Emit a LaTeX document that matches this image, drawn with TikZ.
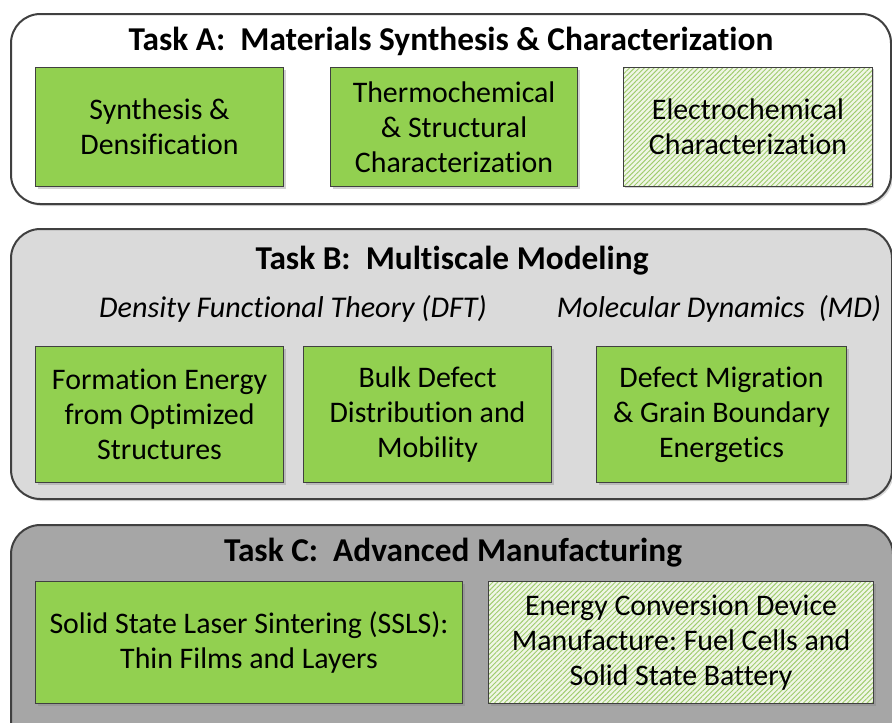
\documentclass[tikz,border=0pt]{standalone}
\usepackage{fontspec}
\setmainfont[Ligatures=NoCommon]{Carlito}
\usepackage{tikz}
\usetikzlibrary{calc,shadows,patterns.meta}

\definecolor{boxgreen}{RGB}{146,208,80}
\definecolor{palegreen}{RGB}{240,246,230}
\definecolor{hatchgreen}{RGB}{160,204,110}
\definecolor{edgegray}{RGB}{64,64,64}
\definecolor{panelB}{RGB}{218,218,218}
\definecolor{panelC}{RGB}{166,166,166}

\newdimen\px
\px=0.75pt
\newcommand{\cellfont}{\fontsize{22.4}{26.3}\selectfont}
\newcommand{\taskfont}{\fontsize{25}{30}\selectfont\bfseries}
\newcommand{\methodfont}{\fontsize{22.6}{27}\selectfont\itshape}
\frenchspacing

\tikzset{
  panel/.style={draw=edgegray, line width=1.5pt, rounded corners=22pt, anchor=north west,
    drop shadow={opacity=0.3, shadow xshift=1.5pt, shadow yshift=-1.5pt}},
  cell/.style={draw=edgegray, line width=0.8pt, anchor=north west, inner sep=0pt,
    align=center, font=\cellfont,
    drop shadow={opacity=0.35, shadow xshift=1.5pt, shadow yshift=-1.5pt}},
  solid cell/.style={cell, fill=boxgreen},
  hatch cell/.style={cell, preaction={fill=palegreen},
    pattern={Lines[angle=45, distance=2.6pt, line width=0.7pt]}, pattern color=hatchgreen},
}

\begin{document}
\begin{tikzpicture}[x=0.75pt, y=-0.75pt]
    \useasboundingbox (0,0) rectangle (892,722);
    \clip (0,0) rectangle (892,722);

    %coordinates
    \coordinate (A) at (10,13);
    \coordinate (B) at (10,228);
    \coordinate (C) at (10,524);

    %panels
    \node[panel, fill=white, minimum width=880\px, minimum height=190\px] (taskA) at (A) {};
    \node[panel, fill=panelB, minimum width=881\px, minimum height=270\px] (taskB) at (B) {};
    \node[panel, fill=panelC, minimum width=882\px, minimum height=240\px] (taskC) at (C) {};

    %task A
    \node[font=\taskfont] (titleA) at ($(A) + (441,28)$) {Task A:\ \ Materials Synthesis \& Characterization};
    \node[solid cell, minimum width=248\px, minimum height=119\px] (synth) at ($(A) + (25,54)$) {Synthesis \&\\Densification};
    \node[solid cell, minimum width=247\px, minimum height=119\px] (thermo) at ($(A) + (320,54)$) {Thermochemical\\\& Structural\\Characterization};
    \node[hatch cell, minimum width=249\px, minimum height=119\px] (electro) at ($(A) + (613,54)$) {Electrochemical\\Characterization};

    %task B
    \node[font=\taskfont] (titleB) at ($(B) + (442,33)$) {Task B:\ \ Multiscale Modeling};
    \node[font=\methodfont] (dft) at ($(B) + (283,81)$) {Density Functional Theory (DFT)};
    \node[font=\methodfont] (md) at ($(B) + (709,81)$) {Molecular Dynamics\ \ (MD)};
    \node[solid cell, minimum width=248\px, minimum height=136\px] (formation) at ($(B) + (25,118)$) {Formation Energy\\from Optimized\\Structures};
    \node[solid cell, minimum width=248\px, minimum height=136\px] (bulk) at ($(B) + (293,118)$) {Bulk Defect\\Distribution and\\Mobility};
    \node[solid cell, minimum width=250\px, minimum height=136\px] (migration) at ($(B) + (586,118)$) {Defect Migration\\\& Grain Boundary\\Energetics};

    %task C
    \node[font=\taskfont] (titleC) at ($(C) + (443,29)$) {Task C:\ \ Advanced Manufacturing};
    \node[solid cell, minimum width=427\px, minimum height=122\px] (ssls) at ($(C) + (25,57)$) {Solid State Laser Sintering (SSLS):\\Thin Films and Layers};
    \node[hatch cell, minimum width=385\px, minimum height=122\px] (device) at ($(C) + (478,57)$) {Energy Conversion Device\\Manufacture: Fuel Cells and\\Solid State Battery};
\end{tikzpicture}
\end{document}
